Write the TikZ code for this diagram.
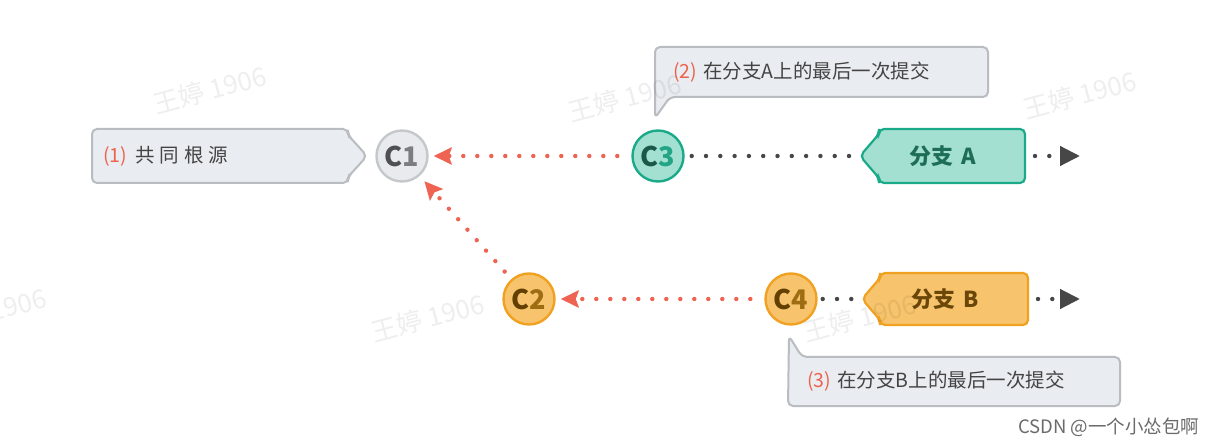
\documentclass[tikz,border=0pt]{standalone}
\usepackage{fontspec}
\setmainfont{Noto Sans CJK SC}
\newfontfamily\cjk{Noto Sans CJK SC}
\usetikzlibrary{arrows.meta,calc,positioning}

\definecolor{notefill}{HTML}{E9ECF0}
\definecolor{noteline}{HTML}{B9BCC1}
\definecolor{notetext}{HTML}{444444}
\definecolor{numred}{HTML}{F0614D}
\definecolor{linkred}{HTML}{EE6352}
\definecolor{dotgrey}{HTML}{474747}
\definecolor{greyfill}{HTML}{E8EAED}
\definecolor{greyline}{HTML}{C5C8CB}
\definecolor{greydark}{HTML}{4E5154}
\definecolor{greylight}{HTML}{7B7E81}
\definecolor{tealfill}{HTML}{A3E0D2}
\definecolor{tealline}{HTML}{1BAA89}
\definecolor{tealdark}{HTML}{1B5848}
\definecolor{teallight}{HTML}{22A584}
\definecolor{tealtext}{HTML}{1E6E57}
\definecolor{orangefill}{HTML}{F7C46D}
\definecolor{orangeline}{HTML}{F0A122}
\definecolor{orangedark}{HTML}{634000}
\definecolor{orangelight}{HTML}{9E6D12}
\definecolor{orangetext}{HTML}{6A4709}
\definecolor{csdngrey}{HTML}{6B6B6B}

\begin{document}
\begin{tikzpicture}[x=1pt, y=-1pt,
  commit/.style={circle, minimum size=51pt, inner sep=0pt, line width=2.4pt,
    font=\cjk\bfseries\fontsize{27}{27}\selectfont},
  grey commit/.style={commit, draw=greyline, fill=greyfill},
  teal commit/.style={commit, draw=tealline, fill=tealfill},
  orange commit/.style={commit, draw=orangeline, fill=orangefill},
  boxspot/.style={rectangle, inner sep=0pt, outer sep=0pt},
  notebox/.style={draw=noteline, fill=notefill, line width=2pt, rounded corners=5pt},
  notetext/.style={inner sep=0pt, text=notetext, font=\cjk\fontsize{19.5}{19.5}\selectfont},
  tealbox/.style={draw=tealline, fill=tealfill, line width=2.2pt, rounded corners=5pt},
  orangebox/.style={draw=orangeline, fill=orangefill, line width=2.2pt, rounded corners=5pt},
  branchtext/.style={inner sep=0pt, font=\cjk\bfseries\fontsize{22}{22}\selectfont},
  red dots/.style={draw=linkred, line width=4.4pt, line cap=round, dash pattern=on 0pt off 14pt},
  grey dots/.style={draw=dotgrey, line width=4.4pt, line cap=round, dash pattern=on 0pt off 14.3pt},
  red tip/.style={-{Stealth[length=18pt,width=17pt,inset=3pt,fill=linkred]}},
  grey tip/.style={-{Triangle[length=20pt,width=19pt,fill=dotgrey]}},
  watermark/.style={text=black, text opacity=0.065, rotate=15, font=\cjk\fontsize{26}{26}\selectfont},
  csdn/.style={text=csdngrey, inner sep=0pt, font=\cjk\fontsize{18.5}{18.5}\selectfont}]
  \fill[white] (0,0) rectangle (1224,446);
  \useasboundingbox (0,0) rectangle (1224,446);
  % Commits
  \node[grey commit] (C1) at (402,156) {{\color{greydark}C}{\color{greylight}1}};
  \node[teal commit] (C3) at (658,156) {{\color{tealdark}C}{\color{teallight}3}};
  \node[orange commit] (C2) at (529,299) {{\color{orangedark}C}{\color{orangelight}2}};
  \node[orange commit] (C4) at (791,299) {{\color{orangedark}C}{\color{orangelight}4}};
  % Note boxes
  \node[boxspot, minimum width=256pt, minimum height=54pt] (note1) at (220,156) {};
  \node[boxspot, minimum width=333pt, minimum height=50pt] (note2) at (821.5,72) {};
  \node[boxspot, minimum width=332pt, minimum height=49pt] (note3) at (954,381.5) {};
  \coordinate (tip1) at ($(note1.east)+(19,0)$);
  \coordinate (tip2) at ($(note2.south west)+(0,21)$);
  \coordinate (tip3) at ($(note3.north west)+(1,-21)$);
  \draw[notebox] (note1.north west) -- (note1.north east) -- ($(note1.north east)+(0,6)$)
    -- (tip1) -- ($(note1.south east)+(0,-6)$) -- (note1.south east) -- (note1.south west) -- cycle;
  \draw[notebox] (note2.north west) -- (note2.north east) -- (note2.south east)
    -- ($(note2.south west)+(15,0)$) -- (tip2) -- cycle;
  \draw[notebox] (tip3) -- ($(note3.north west)+(14,0)$) -- (note3.north east)
    -- (note3.south east) -- (note3.south west) -- cycle;
  \node[notetext, anchor=west, right=11pt of note1.west] (text1)
    {{\color{numred}(1)}\hspace{8pt}共\hspace{5pt}同\hspace{5pt}根\hspace{5pt}源};
  \node[notetext, anchor=west, right=18pt of note2.west] (text2)
    {{\color{numred}(2)}\hspace{6pt}在分支A上的最后一次提交};
  \node[notetext, anchor=west, right=19pt of note3.west] (text3)
    {{\color{numred}(3)}\hspace{6pt}在分支B上的最后一次提交};
  % Branch labels
  \node[boxspot, minimum width=146pt, minimum height=54pt] (brA) at (952,156) {};
  \node[boxspot, minimum width=148pt, minimum height=52pt] (brB) at (954,299) {};
  \coordinate (tipA) at ($(brA.west)+(-19,0)$);
  \coordinate (tipB) at ($(brB.west)+(-18,0)$);
  \coordinate (endA) at ($(brA.east)+(55,0)$);
  \coordinate (endB) at ($(brB.east)+(52,0)$);
  \draw[tealbox] (brA.north west) -- (brA.north east) -- (brA.south east) -- (brA.south west)
    -- ($(brA.south west)+(0,-5)$) -- (tipA) -- ($(brA.north west)+(0,5)$) -- cycle;
  \draw[orangebox] (brB.north west) -- (brB.north east) -- (brB.south east) -- (brB.south west)
    -- ($(brB.south west)+(0,-5)$) -- (tipB) -- ($(brB.north west)+(0,5)$) -- cycle;
  \node[branchtext, text=tealtext] (brAtext) at ($(brA.center)+(-9,0)$) {分支\hspace{8pt}A};
  \node[branchtext, text=orangetext] (brBtext) at ($(brB.center)+(-9,0)$) {分支\hspace{8pt}B};
  % Connectors
  \draw[red dots, red tip, shorten <=14pt, shorten >=5pt] (C3) -- (C1);
  \draw[red dots, red tip, shorten <=14pt, shorten >=5pt] (C4) -- (C2);
  \draw[red dots, red tip, shorten <=10pt, shorten >=7pt] (C2) -- (C1);
  \draw[grey dots, shorten <=7pt, shorten >=7pt] (C3) -- (tipA);
  \draw[grey dots, shorten <=5pt, shorten >=8pt] (C4) -- (tipB);
  \draw[grey dots, grey tip, shorten <=10pt] (brA.east) -- (endA);
  \draw[grey dots, grey tip, shorten <=10pt] (brB.east) -- (endB);
  % Footer and watermarks on top
  \node[csdn, anchor=west] (csdn) at (1018,427) {CSDN @一个小怂包啊};
  \foreach \wx/\wy [count=\i] in {210/90, 625/98, 1080/95, -10/312, 428/318, 860/318}
    \node[watermark] (wm\i) at (\wx,\wy) {王婷 1906};
\end{tikzpicture}
\end{document}
